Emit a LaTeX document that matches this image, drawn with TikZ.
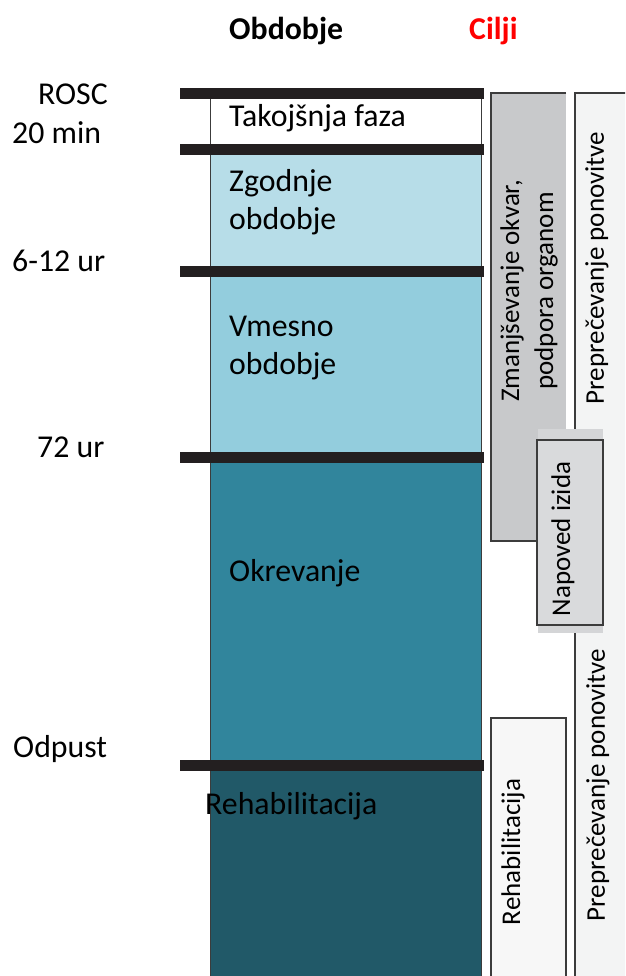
\documentclass[tikz,border=0pt]{standalone}
\usepackage{fontspec}
\setmainfont{Carlito}
\definecolor{barcol}{HTML}{231F20}
\definecolor{edgecol}{HTML}{3C3C3C}
\definecolor{earlycol}{HTML}{B7DDE8}
\definecolor{midcol}{HTML}{93CDDD}
\definecolor{recovcol}{HTML}{31859C}
\definecolor{rehabcol}{HTML}{215968}
\definecolor{organcol}{HTML}{C8C9CB}
\definecolor{progcol}{HTML}{D9DADC}
\definecolor{shadecol}{HTML}{D4D5D7}
\definecolor{prevcol}{HTML}{F3F4F4}
\definecolor{rehabbox}{HTML}{F7F7F7}
\tikzset{
  bigtxt/.style={font=\fontsize{31.8}{38}\selectfont, inner sep=0pt},
  sidetxt/.style={font=\fontsize{27}{34}\selectfont, inner sep=0pt, rotate=90, align=center},
  phasebar/.style={draw=barcol, line width=11pt},
  goalbox/.style={draw=edgecol, line width=1.4pt},
}
\begin{document}
\begin{tikzpicture}[x=1pt, y=-1pt]
    \clip (0, 0) rectangle (625, 976);
    \fill[white] (0, 0) rectangle (625, 976);
    \fill[earlycol] (210.5, 149) rectangle (481.5, 271);
    \fill[midcol] (210.5, 271) rectangle (481.5, 457);
    \fill[recovcol] (210.5, 457) rectangle (481.5, 765);
    \fill[rehabcol] (210.5, 765) rectangle (481.5, 980);
    \draw[goalbox] (210.5, 93) -- (210.5, 980);
    \draw[goalbox] (481.5, 93) -- (481.5, 980);
    \foreach \y in {93.5, 149.5, 271, 457.5, 765}
        \draw[phasebar] (180, \y) -- (484, \y);
    \fill[prevcol] (575, 93) rectangle (630, 980);
    \draw[goalbox] (630, 93) -- (575, 93) -- (575, 980);
    \fill[organcol] (491, 93) rectangle (566, 541);
    \draw[goalbox] (566, 93) -- (491, 93) -- (491, 541) -- (566, 541);
    \fill[shadecol] (538, 429) rectangle (603, 633);
    \draw[goalbox, fill=progcol] (537, 440) rectangle (603, 625);
    \draw[goalbox, fill=rehabbox] (491, 718) rectangle (566, 985);
    \node[bigtxt, anchor=base west] (hdrphase) at (229, 40) {\bfseries Obdobje};
    \node[bigtxt, anchor=base west, text=red] (hdrgoal) at (469, 40) {\bfseries Cilji};
    \node[bigtxt, anchor=base west] (trosc) at (38, 105) {ROSC};
    \node[bigtxt, anchor=base west] (tmin) at (12, 144) {20 min};
    \node[bigtxt, anchor=base west] (thours) at (12, 271) {6-12 ur};
    \node[bigtxt, anchor=base west] (tdays) at (37, 457) {72 ur};
    \node[bigtxt, anchor=base west] (tout) at (13, 757) {Odpust};
    \node[bigtxt, anchor=base west] (immed) at (229, 127) {Takojšnja faza};
    \node[bigtxt, anchor=north west, align=left] (early) at (229, 169.5) {Zgodnje\\obdobje};
    \node[bigtxt, anchor=north west, align=left] (middle) at (229, 315.5) {Vmesno\\obdobje};
    \node[bigtxt, anchor=base west] (recov) at (229, 581) {Okrevanje};
    \node[bigtxt, anchor=base west] (rehab) at (205, 814) {Rehabilitacija};
    \node[sidetxt] (organ) at (529, 291) {Zmanjševanje okvar,\\podpora organom};
    \node[sidetxt] (prevtop) at (597, 268) {Preprečevanje ponovitve};
    \node[sidetxt] (progn) at (563, 539) {Napoved izida};
    \node[sidetxt] (rehabgoal) at (513, 852) {Rehabilitacija};
    \node[sidetxt] (prevbot) at (598, 785) {Preprečevanje ponovitve};
\end{tikzpicture}
\end{document}
